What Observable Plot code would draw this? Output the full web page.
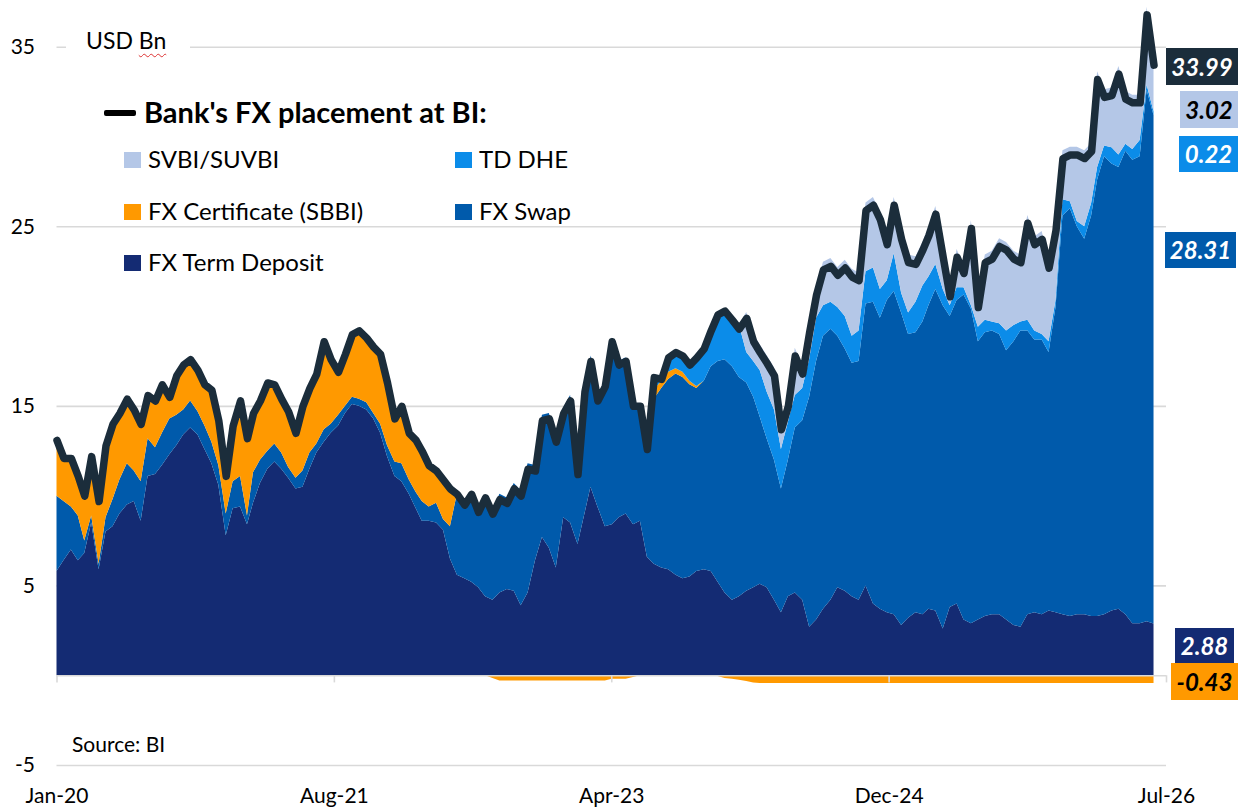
<!DOCTYPE html>
<html>
<head>
<meta charset="utf-8">
<script src="https://cdn.jsdelivr.net/npm/d3@7"></script>
<script src="https://cdn.jsdelivr.net/npm/@observablehq/plot@0.6"></script>
<style>
html,body{margin:0;padding:0;background:#fff;}
#wrap{position:relative;width:1241px;height:810px;overflow:hidden;font-family:Lato,"Open Sans",sans-serif;color:#000;}
#wrap svg{position:absolute;left:0;top:0;}
.t{position:absolute;white-space:nowrap;line-height:1;}
.sq{position:absolute;width:17px;height:16px;}
.lab{position:absolute;font-weight:bold;font-style:italic;font-size:24px;text-align:center;}
</style>
</head>
<body>
<div id="wrap"></div>
<script>
// ---- data (semi-monthly samples: 1st and 16th of each month from Jan 2020), USD bn ----
const seriesNames = ["FX Term Deposit", "FX Swap", "FX Certificate (SBBI)", "TD DHE", "SVBI/SUVBI"];
const seriesColors = ["#142b73", "#005aab", "#ff9900", "#0b8ce9", "#b4c7e7"];

const termDeposit = [5.8,6.4,7.0,6.4,6.8,8.5,5.9,8.0,8.3,9.0,
 9.5,9.7,8.6,11.1,11.2,11.7,12.3,12.8,13.4,13.8,
 13.4,12.6,11.8,10.6,7.8,9.3,9.4,8.4,9.6,10.7,
 11.5,11.9,11.5,11.0,10.4,10.5,11.5,12.4,13.0,13.5,
 13.9,14.6,15.1,15.0,14.8,14.3,13.5,12.2,11.1,10.8,
 10.1,9.3,8.6,8.6,8.5,8.1,6.5,5.6,5.4,5.2,
 4.9,4.4,4.2,4.6,4.8,4.7,3.9,4.6,6.4,7.7,
 7.1,6.0,8.8,8.5,7.3,9.0,10.5,9.4,8.3,8.4,
 8.8,9.0,8.4,8.6,6.6,6.2,6.0,5.9,5.6,5.4,
 5.5,5.8,5.9,5.8,5.2,4.6,4.2,4.4,4.7,4.9,
 5.1,4.9,4.2,3.5,4.4,4.6,4.2,2.7,3.1,3.7,
 4.2,4.9,4.7,4.4,4.2,5.0,4.0,3.7,3.5,3.4,
 2.8,3.2,3.5,3.4,3.7,3.6,2.6,3.8,4.0,3.1,
 2.9,3.1,3.3,3.4,3.4,3.1,2.8,2.7,3.4,3.5,
 3.4,3.6,3.5,3.4,3.3,3.4,3.4,3.3,3.3,3.4,
 3.6,3.7,3.4,2.9,2.9,3.0,2.88];

const fxSwap = [4.2,3.3,2.4,2.5,0.7,0.4,0.3,0.8,1.5,1.9,
 2.3,1.7,2.2,2.1,1.5,1.8,2.0,1.7,1.4,1.5,
 1.3,1.3,1.2,1.1,1.2,1.5,1.7,0.5,1.7,1.3,
 1.0,1.0,0.9,0.6,0.6,0.9,0.9,0.5,0.7,0.5,
 0.6,0.4,0.4,0.4,0.4,0.3,0.5,0.6,0.8,1.0,
 0.8,0.9,1.1,0.8,1.1,0.6,1.8,4.5,4.1,4.9,
 4.2,5.5,4.95,5.5,5.1,6.0,6.4,7.2,5.3,6.8,
 7.5,7.3,6.1,7.1,4.2,7.1,7.3,6.2,8.1,10.4,
 8.7,8.7,6.7,6.4,6.0,9.2,10.0,10.6,11.2,11.2,
 10.7,10.2,10.5,11.4,12.3,13.0,13.0,12.2,11.6,10.6,
 9.3,8.3,7.8,6.9,7.6,9.2,10.0,12.8,14.4,15.2,
 15.1,14.0,13.5,13.0,13.3,15.7,16.8,16.2,17.4,18.0,
 17.4,15.8,15.6,16.3,16.9,17.9,18.0,16.2,16.9,18.1,
 17.5,15.5,15.8,15.8,15.6,15.0,15.8,16.5,15.8,15.2,
 15.3,14.4,17.0,22.2,22.7,21.6,20.9,22.3,24.3,25.5,
 24.9,24.6,25.8,25.8,26.0,29.6,28.31];

const fxCertificate = [3.1,2.4,2.7,2.2,2.5,3.3,3.5,4.0,4.2,3.7,
 3.6,3.4,3.2,2.4,2.6,2.7,1.2,2.2,2.5,2.3,
 2.3,2.3,2.9,2.5,2.1,3.1,4.2,4.3,3.3,3.3,
 3.8,3.3,3.0,3.1,2.5,3.6,3.6,3.9,4.9,3.6,
 2.4,2.9,3.5,3.8,3.6,3.7,3.9,3.5,2.4,3.2,
 2.6,2.9,2.8,2.3,1.8,2.2,2.1,0,0,0,
 0,0,-0.15,-0.3,-0.3,-0.3,-0.3,-0.3,-0.3,-0.3,
 -0.3,-0.3,-0.3,-0.3,-0.3,-0.3,-0.3,-0.3,-0.3,-0.2,
 -0.2,-0.2,-0.1,0,0,0.5,0.4,0.4,0.3,0.3,
 0.2,0.1,0,0,-0.05,-0.15,-0.2,-0.25,-0.32,-0.4,
 -0.43,-0.43,-0.43,-0.43,-0.43,-0.43,-0.43,-0.43,-0.43,-0.43,
 -0.43,-0.43,-0.43,-0.43,-0.43,-0.43,-0.43,-0.43,-0.43,-0.43,
 -0.43,-0.43,-0.43,-0.43,-0.43,-0.43,-0.43,-0.43,-0.43,-0.43,
 -0.43,-0.43,-0.43,-0.43,-0.43,-0.43,-0.43,-0.43,-0.43,-0.43,
 -0.43,-0.43,-0.43,-0.43,-0.43,-0.43,-0.43,-0.43,-0.43,-0.43,
 -0.43,-0.43,-0.43,-0.43,-0.43,-0.43,-0.43];

const tdDhe = [0,0,0,0,0,0,0,0,0,0,
 0,0,0,0,0,0,0,0,0,0,
 0,0,0,0,0,0,0,0,0,0,
 0,0,0,0,0,0,0,0,0,0,
 0,0,0,0,0,0,0,0,0,0,
 0,0,0,0,0,0,0,0,0,0,
 0,0,0,0,0,0,0,0,0,0,
 0,0,0,0,0,0,0,0,0,0,
 0,0,0,0,0,0.7,0.1,0.8,0.9,0.9,
 0.9,1.6,1.8,2.0,2.65,2.85,2.8,2.95,1.7,2.0,
 2.6,2.6,2.8,2.2,2.1,1.8,1.8,2.1,2.4,1.7,
 1.5,1.6,1.8,1.5,1.7,1.8,1.9,1.6,1.1,2.1,
 1.1,1.2,1.7,2.0,1.6,1.4,0.9,0.6,0.7,0.4,
 0.2,0.8,0.7,0.5,0.6,1.1,0.9,0.5,0.6,0.5,
 0.3,0.6,0.4,0.9,0.4,0.3,0.7,0.7,0.7,0.6,
 0.9,0.7,0.4,0.6,0.9,0.3,0.22];

const svbi = [0,0,0,0,0,0,0,0,0,0,
 0,0,0,0,0,0,0,0,0,0,
 0,0,0,0,0,0,0,0,0,0,
 0,0,0,0,0,0,0,0,0,0,
 0,0,0,0,0,0,0,0,0,0,
 0,0,0,0,0,0,0,0,0,0,
 0,0,0,0,0,0,0,0,0,0,
 0,0,0,0,0,0,0,0,0,0,
 0,0,0,0,0,0,0,0,0,0,
 0,0,0,0,0,0,0,0,2.22,1.5,
 1.43,2.03,2.33,1.53,1.33,2.63,1.23,1.93,1.73,2.43,
 2.43,2.23,3.13,3.73,3.23,3.83,3.93,4.33,2.43,3.13,
 3.43,3.23,2.53,2.43,2.73,3.23,2.23,0.93,2.13,1.23,
 4.73,1.53,3.63,3.93,4.73,4.93,4.13,3.73,5.83,5.23,
 5.73,4.53,4.33,2.73,3.03,4.13,4.23,3.33,5.33,3.13,
 3.33,4.93,2.93,3.03,2.53,4.33,3.02];

const yTicks = [-5, 5, 15, 25, 35];
const xTickDates = ["2020-01-01", "2021-08-23", "2023-04-15", "2024-12-05", "2026-07-28"];
const endLabelTexts = ["33.99", "3.02", "0.22", "28.31", "2.88", "-0.43"];

// ---- build tables ----
const seriesValues = [termDeposit, fxSwap, fxCertificate, tdDhe, svbi];
const dates = termDeposit.map((_, k) => new Date(Date.UTC(2020, Math.floor(k / 2), k % 2 ? 16 : 1)));
const xTicks = xTickDates.map(s => new Date(s + "T00:00:00Z"));
const totals = dates.map((d, k) => ({date: d, total: d3.sum(seriesValues, arr => arr[k])}));

// stacking: positives upward from 0 (series order), negatives downward from 0
const stackPts = seriesNames.map(() => []);
dates.forEach((d, k) => {
  let pos = 0, neg = 0;
  seriesValues.forEach((arr, s) => {
    const v = arr[k];
    const p = {date: d, series: seriesNames[s], value: v, posBase: pos, negBase: neg};
    if (v < 0) { p.y1 = neg; p.y2 = neg + v; neg = p.y2; }
    else { p.y1 = pos; p.y2 = pos + v; pos = p.y2; }
    stackPts[s].push(p);
  });
});
// split each series into runs of same sign so a sign change never draws a sliver
const areaRows = [];
stackPts.forEach((pts, s) => {
  let seg = 0;
  const zeroPt = (p, sign, z) => {
    const b = sign > 0 ? p.posBase : p.negBase;
    return {date: p.date, series: p.series, y1: b, y2: b, z};
  };
  for (let k = 0; k < pts.length; k++) {
    const v = pts[k].value, sign = Math.sign(v);
    if (sign === 0) continue;
    const prev = k > 0 ? pts[k - 1].value : null;
    if (k === 0 || prev === 0 || Math.sign(prev) !== sign) {
      seg++;
      if (prev === 0) areaRows.push(zeroPt(pts[k - 1], sign, seriesNames[s] + seg));
    }
    areaRows.push({date: pts[k].date, series: pts[k].series, y1: pts[k].y1, y2: pts[k].y2, z: seriesNames[s] + seg});
    if (k + 1 < pts.length && pts[k + 1].value === 0) areaRows.push(zeroPt(pts[k + 1], sign, seriesNames[s] + seg));
  }
});

const plot = Plot.plot({
  width: 1241, height: 810,
  marginTop: 0, marginRight: 75, marginBottom: 45, marginLeft: 56.5,
  style: {fontFamily: "Lato, 'Open Sans', sans-serif", fontSize: "21px", color: "#000", background: "transparent", overflow: "visible"},
  x: {type: "utc", domain: [xTicks[0], xTicks[xTicks.length - 1]], label: null},
  y: {domain: [-5, 37.6], label: null},
  color: {domain: seriesNames, range: seriesColors},
  marks: [
    Plot.gridY(yTicks, {stroke: "#d9d9d9", strokeOpacity: 1, strokeWidth: 1.6}),
    Plot.areaY(areaRows, {x: "date", y1: "y1", y2: "y2", fill: "series", z: "z"}),
    Plot.ruleY([0], {stroke: "#d9d9d9", strokeWidth: 1.6}),
    Plot.ruleX(xTicks, {x: d => d, y1: 0, y2: -0.4, stroke: "#d9d9d9", strokeWidth: 1.6}),
    Plot.lineY(totals, {x: "date", y: "total", stroke: "#1b2d3b", strokeWidth: 7.5, strokeLinejoin: "round", strokeLinecap: "round"}),
    Plot.axisY(yTicks, {tickSize: 0, tickPadding: 22, fontSize: 21, label: null, tickFormat: d => String(d)}),
    Plot.axisX(xTicks, {tickSize: 0, tickPadding: 23, fontSize: 21, label: null, tickFormat: d3.utcFormat("%b-%y")})
  ]
});
const wrap = document.getElementById("wrap");
wrap.appendChild(plot);

// ---- legend & annotations (HTML overlay) ----
function add(html) { wrap.insertAdjacentHTML("beforeend", html); }
add(`<div class="t" style="left:66px;top:28px;font-size:23px;background:#fff;padding:1px 24px 3px 20px;">USD <span style="text-decoration:underline wavy #d33;text-decoration-thickness:1px;text-underline-offset:4px;">Bn</span></div>`);
add(`<div style="position:absolute;left:104px;top:110px;width:32px;height:6px;background:#000;border-radius:2px;"></div>`);
add(`<div class="t" style="left:144px;top:97px;font-size:29px;font-weight:bold;">Bank's FX placement at BI:</div>`);
const legendItems = [
  {name: "SVBI/SUVBI", col: 0, row: 0},
  {name: "TD DHE", col: 1, row: 0},
  {name: "FX Certificate (SBBI)", col: 0, row: 1},
  {name: "FX Swap", col: 1, row: 1},
  {name: "FX Term Deposit", col: 0, row: 2}
];
const colX = [124, 455], rowY = [152, 204, 255];
legendItems.forEach(it => {
  const c = seriesColors[seriesNames.indexOf(it.name)];
  add(`<div class="sq" style="left:${colX[it.col]}px;top:${rowY[it.row]}px;background:${c};"></div>`);
  add(`<div class="t" style="left:${colX[it.col] + 24}px;top:${rowY[it.row] - 5}px;font-size:24px;">${it.name}</div>`);
});
add(`<div class="t" style="left:72px;top:733px;font-size:21px;">Source: BI</div>`);

const labelLayout = [
  {left: 1166, top: 48, w: 72, h: 37, bg: "#1b2d3b", fg: "#fff"},
  {left: 1180, top: 91, w: 58, h: 37, bg: "#b4c7e7", fg: "#000"},
  {left: 1179, top: 136, w: 59, h: 36, bg: "#0b8ce9", fg: "#fff"},
  {left: 1165, top: 232, w: 71, h: 36, bg: "#005aab", fg: "#fff"},
  {left: 1175, top: 628, w: 59, h: 36, bg: "#142b73", fg: "#fff"},
  {left: 1171, top: 663, w: 67, h: 37, bg: "#ff9900", fg: "#000"}
];
labelLayout.forEach((L, i) => {
  add(`<div class="lab" style="left:${L.left}px;top:${L.top}px;width:${L.w}px;height:${L.h}px;line-height:${L.h}px;background:${L.bg};color:${L.fg};">${endLabelTexts[i]}</div>`);
});
</script>
</body>
</html>
